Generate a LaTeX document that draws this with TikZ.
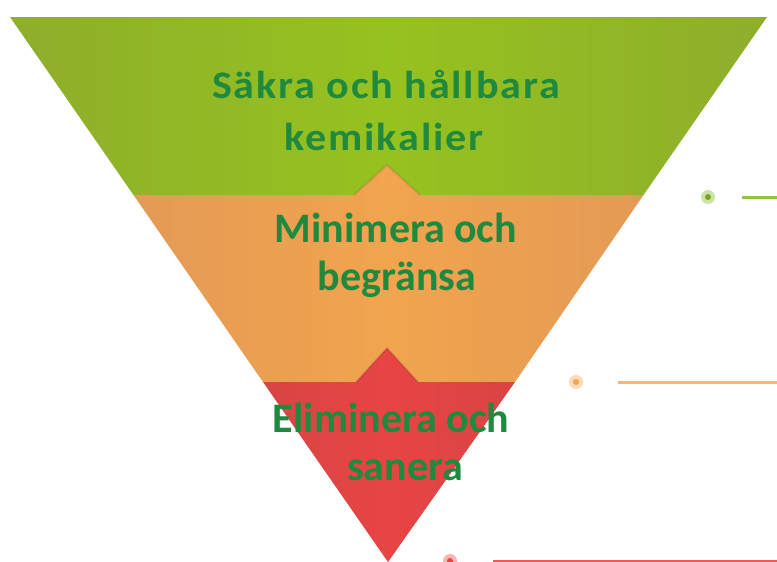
\documentclass[tikz,border=0pt]{standalone}
\usepackage{fontspec}
\setmainfont{Carlito}
\newfontfamily\spacedfont[LetterSpace=4.4]{Carlito}
\newcommand{\widetext}[1]{\scalebox{1.08}[1]{#1}}
\definecolor{gr}{HTML}{96C21F}
\definecolor{grd}{HTML}{8EAE2C}
\definecolor{orc}{HTML}{F2A44E}
\definecolor{ord}{HTML}{E39A55}
\definecolor{rdc}{HTML}{E84444}
\definecolor{rdd}{HTML}{D94444}
\definecolor{txt}{HTML}{1F8A3E}
\definecolor{dgr}{HTML}{8CC63F}
\definecolor{dor}{HTML}{F7B97A}
\definecolor{drd}{HTML}{EE5A5A}
\tikzset{
  lbl/.style={anchor=base, inner sep=0pt, text=txt, font=\bfseries\fontsize{42}{48}\selectfont},
  glbl/.style={anchor=base, inner sep=0pt, text=txt, font=\spacedfont\bfseries\fontsize{39}{48}\selectfont},
  dot/.style={circle, minimum size=14pt, inner sep=0pt},
  dotcore/.style={circle, minimum size=6pt, inner sep=0pt},
  leader/.style={line width=3pt}
}
\begin{document}
\begin{tikzpicture}[x=1pt,y=-1pt]
\useasboundingbox (0,0) rectangle (777,562);
% bands
\shade[left color=grd, right color=grd, middle color=gr]
  (10,17) -- (767,17) -- (643.5,195) -- (420,195) -- (387,165) -- (354,195) -- (133.5,195) -- cycle;
\shade[left color=ord, right color=ord, middle color=orc]
  (133.5,195) -- (354,195) -- (387,165) -- (420,195) -- (643.5,195) -- (515,382) -- (418,382) -- (387,348) -- (356,382) -- (263,382) -- cycle;
\shade[left color=rdd, right color=rdd, middle color=rdc]
  (263,382) -- (356,382) -- (387,348) -- (418,382) -- (515,382) -- (388,562) -- cycle;
% subtle notch shadows
\draw[black, opacity=0.1, line width=2pt] (354,195) -- (387,165) -- (420,195);
\draw[black, opacity=0.1, line width=2pt] (356,382) -- (387,348) -- (418,382);
% labels
\node[glbl] (l1a) at (386,98) {\widetext{Säkra och hållbara}};
\node[glbl] (l1b) at (384,150) {\widetext{kemikalier}};
\node[lbl] (l2a) at (396,242) {Minimera och};
\node[lbl] (l2b) at (397,290) {begränsa};
\node[lbl] (l3a) at (391,432) {Eliminera och};
\node[lbl] (l3b) at (405,480) {sanera};
% markers
\node[dot, fill=dgr!45] (d1) at (708,197) {};
\node[dotcore, fill=gr!85!black] (d1c) at (d1) {};
\coordinate (e1a) at (742,197);
\coordinate (e1b) at (777,197);
\draw[leader, draw=dgr] (e1a) -- (e1b);
\node[dot, fill=dor!55] (d2) at (576,382) {};
\node[dotcore, fill=orc] (d2c) at (d2) {};
\coordinate (e2a) at (618,382);
\coordinate (e2b) at (777,382);
\draw[leader, draw=dor] (e2a) -- (e2b);
\node[dot, fill=drd!45] (d3) at (450,561) {};
\node[dotcore, fill=rdc] (d3c) at (d3) {};
\coordinate (e3a) at (493,561);
\coordinate (e3b) at (777,561);
\draw[leader, draw=drd] (e3a) -- (e3b);
\end{tikzpicture}
\end{document}
